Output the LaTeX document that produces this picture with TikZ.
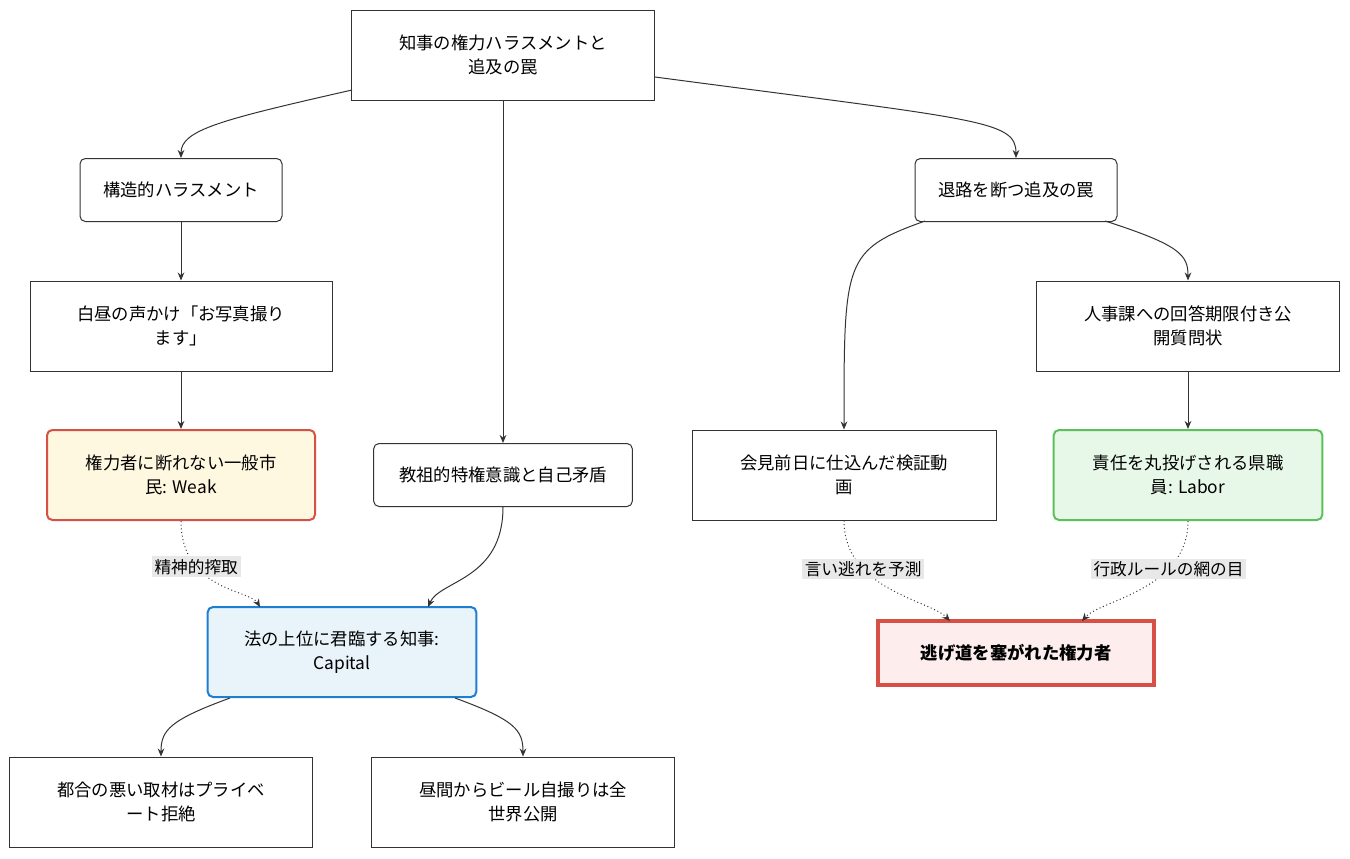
\documentclass[tikz,border=0pt]{standalone}
\usepackage{fontspec}
\setmainfont{Noto Sans CJK JP}
\usetikzlibrary{arrows.meta}
\definecolor{ln}{HTML}{333333}
\begin{document}
\begin{tikzpicture}[x=0.75pt,y=-0.75pt,
 box/.style={draw=ln,line width=0.75pt,fill=white,minimum height=#1*0.75pt,align=center,font=\fontsize{13}{18}\selectfont,inner sep=0pt},
 box/.default=63,
 e/.style={draw=ln,line width=0.75pt,-{Stealth[length=6pt,width=5pt]}},
 d/.style={e,dotted},
 lab/.style={fill=black!9,font=\fontsize{12.5}{15}\selectfont,inner sep=2pt}]
\useasboundingbox (0,0) rectangle (1350,858);
\node[box=90,minimum width=227pt] (top) at (503,55) {知事の権力ハラスメントと\\追及の罠};
\node[box,rounded corners=4pt,minimum width=151.5pt] (A) at (181,190) {構造的ハラスメント};
\node[box=90,minimum width=226.5pt] (B) at (181,326) {白昼の声かけ「お写真撮り\\ます」};
\node[box=90,rounded corners=4pt,minimum width=201pt,fill={rgb,255:red,255;green,248;blue,225},draw={rgb,255:red,214;green,80;blue,70},line width=1.5pt] (C) at (181,475) {権力者に断れない一般市\\民: Weak};
\node[box,rounded corners=4pt,minimum width=194pt] (D) at (503,475) {教祖的特権意識と自己矛盾};
\node[box=90,rounded corners=4pt,minimum width=201.5pt,fill={rgb,255:red,232;green,243;blue,250},draw={rgb,255:red,30;green,127;blue,208},line width=1.5pt] (E) at (342,652) {法の上位に君臨する知事:\\Capital};
\node[box=90,minimum width=227pt] (F) at (161,802) {都合の悪い取材はプライベ\\ート拒絶};
\node[box=90,minimum width=227pt] (G) at (523,802) {昼間からビール自撮りは全\\世界公開};
\node[box,rounded corners=4pt,minimum width=151.5pt] (H) at (1016,190) {退路を断つ追及の罠};
\node[box=90,minimum width=227pt] (I) at (1188,326) {人事課への回答期限付き公\\開質問状};
\node[box=90,minimum width=228pt] (J) at (844,475) {会見前日に仕込んだ検証動\\画};
\node[box=90,rounded corners=4pt,minimum width=201.5pt,fill={rgb,255:red,232;green,248;blue,232},draw={rgb,255:red,92;green,192;blue,92},line width=1.5pt] (K) at (1188,475) {責任を丸投げされる県職\\員: Labor};
\node[box=64,minimum width=207pt,fill={rgb,255:red,253;green,237;blue,237},draw={rgb,255:red,214;green,80;blue,70},line width=2.3pt,font=\fontsize{13}{18}\selectfont\bfseries] (L) at (1016,653) {逃げ道を塞がれた権力者};
\coordinate (t1) at (352,90); \coordinate (t2) at (655,77);
\draw[e] (t1) .. controls (220,120) and (181,130) .. (A.north);
\draw[e] (top) -- (D);
\draw[e] (t2) .. controls (980,120) and (1016,120) .. (H.north);
\draw[e] (A) -- (B); \draw[e] (B) -- (C); \draw[e] (I) -- (K);
\draw[e] (D.south) .. controls (503,580) and (440,580) .. (428,607);
\draw[d] (C.south) .. controls (181,590) and (250,590) .. (260,607) node[lab,pos=0.3] {精神的搾取};
\draw[e] (230,698) .. controls (170,720) and (161,730) .. (F.north);
\draw[e] (455,698) .. controls (515,720) and (523,730) .. (G.north);
\draw[e] (925,221) .. controls (844,250) and (844,260) .. (J.north);
\draw[e] (1105,221) .. controls (1180,245) and (1188,255) .. (I.north);
\draw[d] (J.south) .. controls (844,590) and (930,600) .. (950,621) node[lab,pos=0.3] {言い逃れを予測};
\draw[d] (K.south) .. controls (1188,590) and (1100,600) .. (1082,621) node[lab,pos=0.3] {行政ルールの網の目};
\end{tikzpicture}
\end{document}
